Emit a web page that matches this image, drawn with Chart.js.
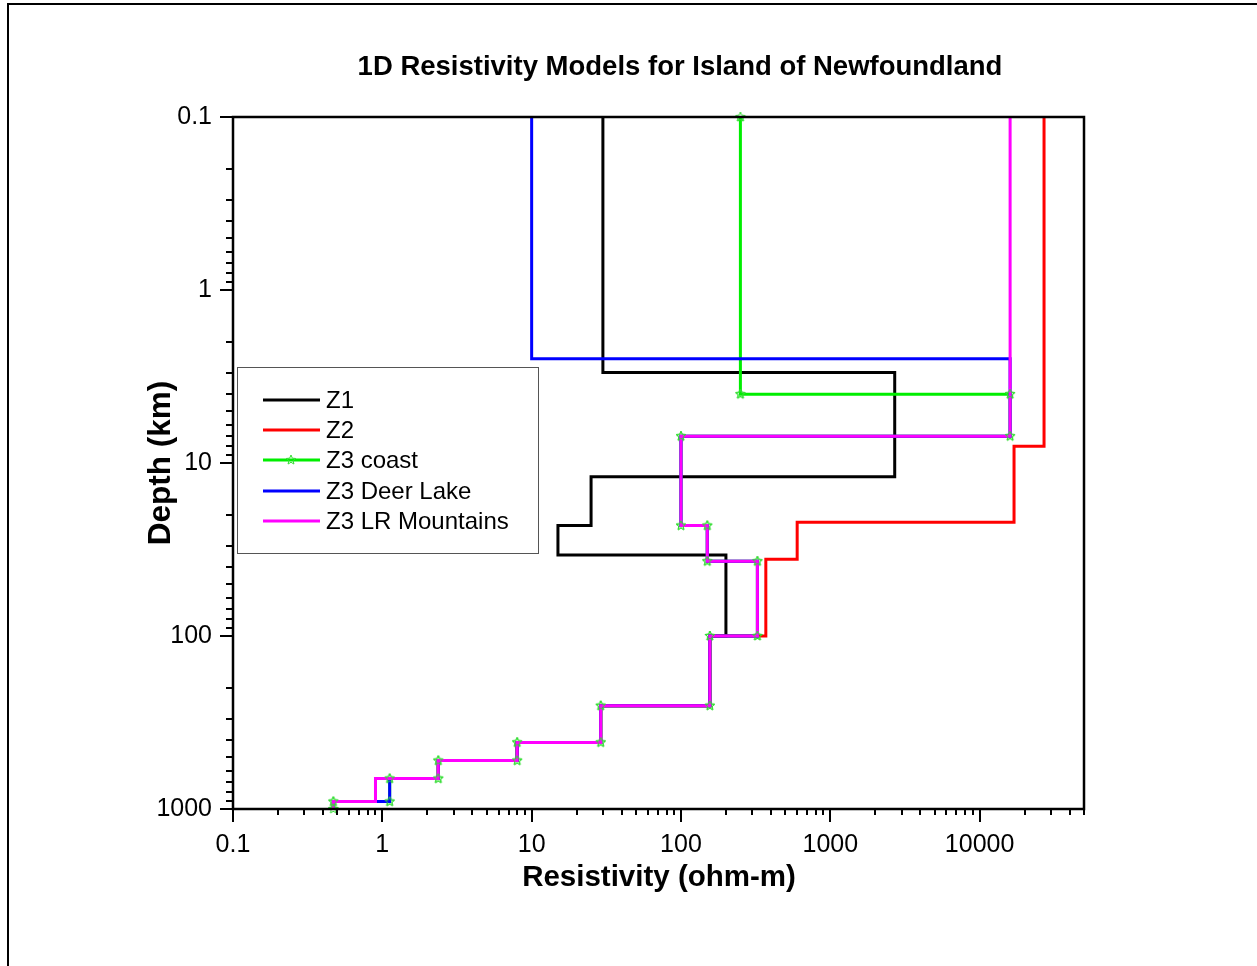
<!DOCTYPE html>
<html>
<head>
<meta charset="utf-8">
<script src="https://cdn.jsdelivr.net/npm/chart.js@4.4.0/dist/chart.umd.min.js"></script>
<style>
    html, body { margin: 0; padding: 0; background: #fff; }
    #wrap { position: relative; width: 1257px; height: 966px; }
</style>
</head>
<body>
<div id="wrap"><canvas id="myChart" width="1257" height="966"></canvas></div>
<script>
"use strict";

// #region Data (resistivity per layer, depth of each layer top in km)
const DEPTH_MAX = 1000;

const z1Res = [30, 2700, 25, 15, 200, 156, 29, 8, 2.37, 0.9, 0.47];
const z1Top = [0.1, 3, 12, 23, 34, 100, 253, 412, 525, 667, 906];

const z2Res = [27000, 17000, 600, 370, 156, 29, 8, 2.37, 0.9, 0.47];
const z2Top = [0.1, 8, 22, 36, 100, 253, 412, 525, 667, 906];

const coastRes = [250, 16000, 100, 150, 325, 156, 29, 8, 2.37, 1.12, 0.47];
const coastTop = [0.1, 4, 7, 23, 37, 100, 253, 412, 525, 667, 906];

const deerRes = [10, 16000, 100, 150, 325, 156, 29, 8, 2.37, 1.12, 0.47];
const deerTop = [0.1, 2.5, 7, 23, 37, 100, 253, 412, 525, 667, 906];

const lrRes = [16000, 100, 150, 325, 156, 29, 8, 2.37, 0.9, 0.47];
const lrTop = [0.1, 7, 23, 37, 100, 253, 412, 525, 667, 906];

const xTicks = [0.1, 1, 10, 100, 1000, 10000];
const xTickLabels = ["0.1", "1", "10", "100", "1000", "10000"];
const yTicks = [0.1, 1, 10, 100, 1000];
const yTickLabels = ["0.1", "1", "10", "100", "1000"];

const seriesNames = ["Z1", "Z2", "Z3 coast", "Z3 Deer Lake", "Z3 LR Mountains"];
const seriesColours = ["#000000", "#ff0000", "#00ee00", "#0000ff", "#ff00ff"];
// #endregion

const FONT = "'Liberation Sans', Arial, sans-serif";
Chart.defaults.font.family = FONT;
Chart.defaults.color = "#000";

/* Turns layers into a step line: two points per layer (top and bottom) */
function steps(res, tops) {
    const pts = [];
    for (let i = 0; i < res.length; i++) {
        const bottom = i + 1 < tops.length ? tops[i + 1] : DEPTH_MAX;
        pts.push({ x: res[i], y: tops[i] });
        pts.push({ x: res[i], y: bottom });
    }
    return pts;
}

/* 5-point outlined star, Chart.js only has an asterisk "star" */
function makeStar(colour, r) {
    const c = document.createElement("canvas");
    const s = Math.ceil(r * 2 + 2);
    c.width = s;
    c.height = s;
    const ctx = c.getContext("2d");
    ctx.strokeStyle = colour;
    ctx.lineWidth = 1;
    ctx.beginPath();
    for (let i = 0; i < 10; i++) {
        const a = -Math.PI / 2 + (i * Math.PI) / 5;
        const rr = i % 2 === 0 ? r : r * 0.45;
        ctx.lineTo(s / 2 + rr * Math.cos(a), s / 2 + rr * Math.sin(a));
    }
    ctx.closePath();
    ctx.stroke();
    return c;
}
const starImg = makeStar("#33dd33", 5);

function lineSet(i, data, order, width) {
    return {
        label: seriesNames[i],
        data: data,
        borderColor: seriesColours[i],
        backgroundColor: seriesColours[i],
        borderWidth: width,
        pointRadius: 0,
        showLine: true,
        tension: 0,
        order: order,
    };
}

const coastSet = lineSet(2, steps(coastRes, coastTop), 2, 3);
coastSet.pointStyle = starImg;
coastSet.pointRadius = 5;

const datasets = [
    lineSet(0, steps(z1Res, z1Top), 4, 3),
    lineSet(1, steps(z2Res, z2Top), 3, 3),
    coastSet,
    lineSet(3, steps(deerRes, deerTop), 1, 3),
    lineSet(4, steps(lrRes, lrTop), 0, 3),
];

// #region Custom drawing: frame, ticks, titles, legend
const decorations = {
    id: "decorations",
    afterDatasetsDraw(chart) {
        const ctx = chart.ctx;
        const a = chart.chartArea;
        const xs = chart.scales.x;
        const ys = chart.scales.y;
        ctx.save();

        // stars of "Z3 coast" sit on top of the other lines
        const coastMeta = chart.getDatasetMeta(2);
        coastMeta.data.forEach((pt) => {
            ctx.drawImage(starImg, pt.x - starImg.width / 2, pt.y - starImg.height / 2);
        });

        // page border (left + top)
        ctx.strokeStyle = "#000";
        ctx.lineWidth = 2;
        ctx.beginPath();
        ctx.moveTo(8, 966);
        ctx.lineTo(8, 4);
        ctx.lineTo(1257, 4);
        ctx.stroke();

        // plot frame
        ctx.lineWidth = 2.5;
        ctx.strokeRect(a.left, a.top, a.right - a.left, a.bottom - a.top);

        // x ticks, major + minor
        ctx.lineWidth = 2;
        ctx.beginPath();
        for (let d = -1; d <= 4; d++) {
            for (let m = 1; m <= 9; m++) {
                const v = m * Math.pow(10, d);
                if (v > xs.max * 1.0001) continue;
                const px = Math.round(xs.getPixelForValue(v));
                const len = m === 1 ? 13 : 6;
                ctx.moveTo(px, a.bottom);
                ctx.lineTo(px, a.bottom + len);
            }
        }
        // y ticks
        for (let d = -1; d <= 3; d++) {
            for (let m = 1; m <= 9; m++) {
                const v = m * Math.pow(10, d);
                if (v > ys.max * 1.0001) continue;
                const py = Math.round(ys.getPixelForValue(v));
                const len = m === 1 ? 13 : 7;
                ctx.moveTo(a.left, py);
                ctx.lineTo(a.left - len, py);
            }
        }
        ctx.stroke();

        // titles
        ctx.fillStyle = "#000";
        ctx.textAlign = "center";
        ctx.textBaseline = "middle";
        ctx.font = "bold 27.5px " + FONT;
        ctx.fillText("1D Resistivity Models for Island of Newfoundland", 680, 67);
        ctx.font = "bold 29.5px " + FONT;
        ctx.fillText("Resistivity (ohm-m)", 659, 878);
        ctx.save();
        ctx.translate(161, 463);
        ctx.rotate(-Math.PI / 2);
        ctx.font = "bold 31.5px " + FONT;
        ctx.fillText("Depth (km)", 0, 0);
        ctx.restore();

        // legend
        ctx.fillStyle = "#fff";
        ctx.fillRect(237, 367, 301, 186);
        ctx.strokeStyle = "#555";
        ctx.lineWidth = 1;
        ctx.strokeRect(237.5, 367.5, 301, 186);
        const rows = [400, 430, 460, 491, 521];
        ctx.textAlign = "left";
        ctx.font = "24px " + FONT;
        seriesNames.forEach((name, i) => {
            ctx.strokeStyle = seriesColours[i];
            ctx.lineWidth = 3;
            ctx.beginPath();
            ctx.moveTo(263, rows[i]);
            ctx.lineTo(320, rows[i]);
            ctx.stroke();
            if (i === 2) {
                ctx.drawImage(starImg, 291 - starImg.width / 2, rows[i] - starImg.height / 2);
            }
            ctx.fillStyle = "#000";
            ctx.fillText(name, 326, rows[i] + 1);
        });
        ctx.restore();
    },
};
// #endregion

const config = {
    type: "scatter",
    data: { datasets: datasets },
    plugins: [decorations],
    options: {
        responsive: false,
        animation: false,
        devicePixelRatio: 1,
        events: [],
        layout: { padding: { left: 0, top: 117, right: 173, bottom: 0 } },
        plugins: {
            legend: { display: false },
            title: { display: false },
            tooltip: { enabled: false },
        },
        scales: {
            x: {
                type: "logarithmic",
                min: 0.1,
                max: 50000,
                border: { display: false },
                grid: { display: false, drawTicks: true, tickLength: 13 },
                afterBuildTicks: (scale) => {
                    scale.ticks = xTicks.map((v) => ({ value: v }));
                },
                afterFit: (scale) => {
                    scale.height = 157;
                },
                ticks: {
                    autoSkip: false,
                    maxRotation: 0,
                    padding: 8,
                    font: { size: 25 },
                    color: "#000",
                    callback: (v, i) => xTickLabels[i],
                },
            },
            y: {
                type: "logarithmic",
                reverse: true,
                min: 0.1,
                max: DEPTH_MAX,
                border: { display: false },
                grid: { display: false, drawTicks: true, tickLength: 13 },
                afterBuildTicks: (scale) => {
                    scale.ticks = yTicks.map((v) => ({ value: v }));
                },
                afterFit: (scale) => {
                    scale.width = 233;
                },
                ticks: {
                    autoSkip: false,
                    padding: 8,
                    font: { size: 25 },
                    color: "#000",
                    callback: (v, i) => yTickLabels[i],
                },
            },
        },
    },
};

const myChart = new Chart(document.getElementById("myChart"), config);
</script>
</body>
</html>
